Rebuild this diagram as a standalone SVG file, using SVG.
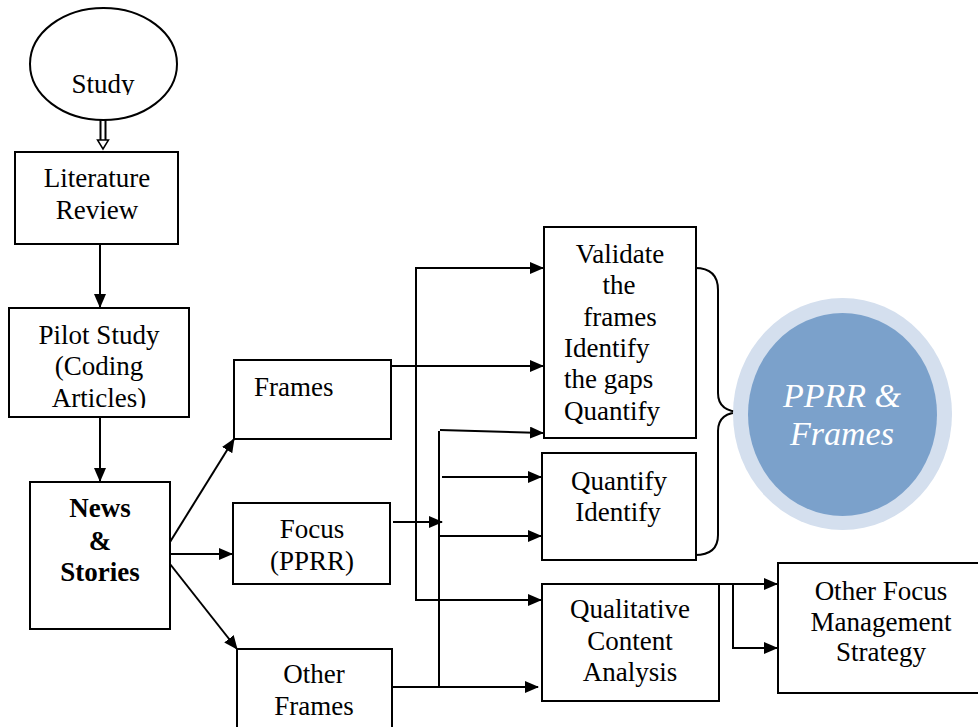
<svg xmlns="http://www.w3.org/2000/svg" width="978" height="727" viewBox="0 0 978 727">
<style>
.box{fill:#fff;stroke:#000;stroke-width:2}
.t{font-family:"Liberation Serif","Times New Roman",serif;font-size:27px;fill:#000}
.c{text-anchor:middle}
.b{font-weight:bold}
.ln{fill:none;stroke:#000;stroke-width:2}
.it{font-family:"Liberation Serif","Times New Roman",serif;font-size:34px;font-style:italic;fill:#fff;text-anchor:middle}
</style>
<defs>
<marker id="ah" markerUnits="userSpaceOnUse" markerWidth="14" markerHeight="12" refX="13" refY="6" orient="auto">
<path d="M0,0 L14,6 L0,12 Z" fill="#000"/>
</marker>
<clipPath id="cpStudy"><rect x="0" y="0" width="300" height="95"/></clipPath>
<clipPath id="cpPilot"><rect x="0" y="300" width="300" height="108"/></clipPath>
</defs>

<g id="connectors">
<!-- Study to Literature: hollow double arrow -->
<path class="ln" d="M100.5,120 V140 M105.5,120 V140" stroke-width="1.5"/>
<path d="M97.5,140 L108.5,140 L103,149 Z" fill="#fff" stroke="#000" stroke-width="1.5"/>
<path class="ln" d="M100,244 V307" marker-end="url(#ah)"/>
<path class="ln" d="M100,417 V481" marker-end="url(#ah)"/>
<path class="ln" d="M170,542 L234,439" marker-end="url(#ah)"/>
<path class="ln" d="M170,554 L232,554" marker-end="url(#ah)"/>
<path class="ln" d="M170,564 L237,649" marker-end="url(#ah)"/>
<!-- main bus -->
<path class="ln" d="M543,268 H416 V600 H541" marker-end="url(#ah)"/>
<path class="ln" d="M416,268 H543" marker-end="url(#ah)"/>
<path class="ln" d="M391,366 H543" marker-end="url(#ah)"/>
<path class="ln" d="M440,430 L543,433" marker-end="url(#ah)"/>
<path class="ln" d="M439,431 V687"/>
<path class="ln" d="M442,477 H541" marker-end="url(#ah)"/>
<path class="ln" d="M393,522 H442" marker-end="url(#ah)"/>
<path class="ln" d="M440,536 H541" marker-end="url(#ah)"/>
<path class="ln" d="M392,687 H538" marker-end="url(#ah)"/>
<!-- to Other Focus -->
<path class="ln" d="M719,584 H777" marker-end="url(#ah)"/>
<path class="ln" d="M733,584 V648 H777" marker-end="url(#ah)"/>
<!-- brace -->
<path class="ln" d="M695,268 Q718,268 718,290 V393 Q718,412 742,412 Q718,412 718,431 V535 Q718,555 695,555"/>
</g>

<g id="study">
<ellipse cx="103.5" cy="64" rx="73.5" ry="56" class="box"/>
<text class="t c" x="103" y="93" clip-path="url(#cpStudy)">Study</text>
</g>

<g id="literature">
<rect class="box" x="15" y="152" width="163" height="92"/>
<text class="t c" x="97" y="187">Literature</text>
<text class="t c" x="97" y="219">Review</text>
</g>

<g id="pilot">
<rect class="box" x="9" y="308" width="180" height="109"/>
<g clip-path="url(#cpPilot)">
<text class="t c" x="99" y="344">Pilot Study</text>
<text class="t c" x="99" y="375">(Coding</text>
<text class="t c" x="99" y="407">Articles)</text>
</g>
</g>

<g id="news">
<rect class="box" x="30" y="482" width="140" height="147"/>
<text class="t c b" x="100" y="517">News</text>
<text class="t c b" x="100" y="550">&amp;</text>
<text class="t c b" x="100" y="581">Stories</text>
</g>

<g id="frames">
<rect class="box" x="234" y="360" width="157" height="79"/>
<text class="t" x="254" y="396">Frames</text>
</g>

<g id="focus">
<rect class="box" x="233" y="503" width="157" height="81"/>
<text class="t c" x="312" y="538">Focus</text>
<text class="t c" x="312" y="570">(PPRR)</text>
</g>

<g id="other-frames">
<rect class="box" x="237" y="649" width="155" height="90"/>
<text class="t c" x="314" y="683">Other</text>
<text class="t c" x="314" y="715">Frames</text>
</g>

<g id="validate">
<rect class="box" x="544" y="227" width="152" height="211"/>
<text class="t c" x="620" y="263">Validate</text>
<text class="t c" x="619" y="294">the</text>
<text class="t c" x="620" y="326">frames</text>
<text class="t" x="564" y="357">Identify</text>
<text class="t" x="564" y="388">the gaps</text>
<text class="t" x="564" y="420">Quantify</text>
</g>

<g id="quantify">
<rect class="box" x="542" y="453" width="154" height="107"/>
<text class="t c" x="619" y="490">Quantify</text>
<text class="t c" x="618" y="521">Identify</text>
</g>

<g id="qualitative">
<rect class="box" x="542" y="584" width="177" height="117"/>
<text class="t c" x="630" y="618">Qualitative</text>
<text class="t c" x="630" y="650">Content</text>
<text class="t c" x="630" y="681">Analysis</text>
</g>

<g id="other-focus">
<rect class="box" x="778" y="563" width="220" height="130"/>
<text class="t c" x="881" y="600">Other Focus</text>
<text class="t c" x="881" y="631">Management</text>
<text class="t c" x="881" y="661">Strategy</text>
</g>

<g id="pprr">
<ellipse cx="842.5" cy="414" rx="109.5" ry="116" fill="#d4dfee"/>
<ellipse cx="842.5" cy="414.5" rx="94.5" ry="101.5" fill="#7ba1cb"/>
<text class="it" x="842" y="407">PPRR &amp;</text>
<text class="it" x="842" y="445">Frames</text>
</g>
</svg>
